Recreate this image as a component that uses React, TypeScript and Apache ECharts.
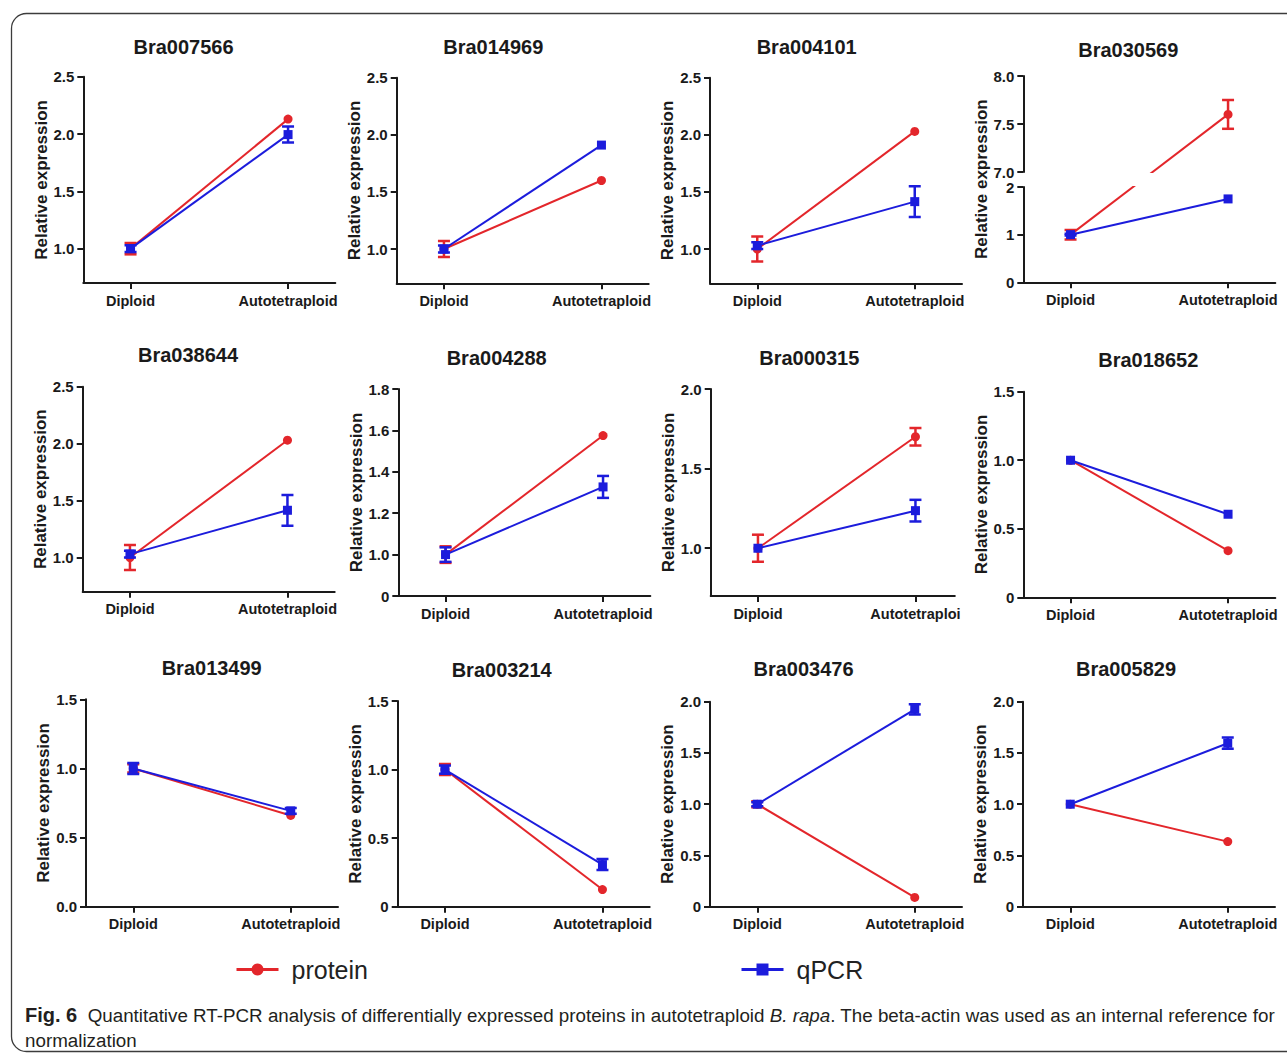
import React, { useEffect, useRef } from 'react';
import * as echarts from 'echarts';

// ---------------- data ----------------
const categories = ['Diploid', 'Autotetraploid'];
const genes = [
  'Bra007566', 'Bra014969', 'Bra004101', 'Bra030569',
  'Bra038644', 'Bra004288', 'Bra000315', 'Bra018652',
  'Bra013499', 'Bra003214', 'Bra003476', 'Bra005829',
];
const proteinMean = [
  [1.0, 2.13], [1.0, 1.6], [1.0, 2.03], [1.0, 7.6],
  [1.0, 2.03], [1.0, 1.575], [1.0, 1.7], [1.0, 0.34],
  [1.0, 0.66], [1.0, 0.125], [1.0, 0.09], [1.0, 0.635],
];
const proteinErr = [
  [0.05, 0], [0.07, 0], [0.11, 0], [0.1, 0.15],
  [0.11, 0], [0.04, 0], [0.085, 0.055], [0, 0],
  [0.03, 0], [0.04, 0], [0.03, 0], [0, 0],
];
const qpcrMean = [
  [1.0, 1.995], [1.0, 1.91], [1.03, 1.415], [1.0, 1.75],
  [1.03, 1.415], [1.0, 1.327], [1.0, 1.236], [1.0, 0.606],
  [1.0, 0.693], [1.0, 0.307], [1.0, 1.926], [1.0, 1.595],
];
const qpcrErr = [
  [0.03, 0.07], [0.03, 0], [0.03, 0.135], [0.02, 0],
  [0.03, 0.135], [0.035, 0.053], [0, 0.068], [0, 0],
  [0.04, 0.02], [0.03, 0.04], [0.02, 0.05], [0, 0.055],
];
const yMin = [0.7, 0.7, 0.7, 0, 0.7, 0.8, 0.7, 0, 0, 0, 0, 0];
const yMax = [2.5, 2.5, 2.5, 2, 2.5, 1.8, 2.0, 1.5, 1.5, 1.5, 2.0, 2.0];
const yTickValues = [
  [1, 1.5, 2, 2.5], [1, 1.5, 2, 2.5], [1, 1.5, 2, 2.5], [0, 1, 2],
  [1, 1.5, 2, 2.5], [0.8, 1.0, 1.2, 1.4, 1.6, 1.8], [1, 1.5, 2], [0, 0.5, 1, 1.5],
  [0, 0.5, 1, 1.5], [0, 0.5, 1, 1.5], [0, 0.5, 1, 1.5, 2], [0, 0.5, 1, 1.5, 2],
];
const yTickLabels = [
  ['1.0', '1.5', '2.0', '2.5'], ['1.0', '1.5', '2.0', '2.5'], ['1.0', '1.5', '2.0', '2.5'], ['0', '1', '2'],
  ['1.0', '1.5', '2.0', '2.5'], ['0', '1.0', '1.2', '1.4', '1.6', '1.8'], ['1.0', '1.5', '2.0'], ['0', '0.5', '1.0', '1.5'],
  ['0.0', '0.5', '1.0', '1.5'], ['0', '0.5', '1.0', '1.5'], ['0', '0.5', '1.0', '1.5', '2.0'], ['0', '0.5', '1.0', '1.5', '2.0'],
];
// broken axis panel (Bra030569): upper segment
const breakPanel = 3;
const upperRange = [7, 8];
const upperTickValues = [7, 7.5, 8];
const upperTickLabels = ['7.0', '7.5', '8.0'];

const legendNames = ['protein', 'qPCR'];
const yAxisTitle = 'Relative expression';
const captionLabel = 'Fig. 6';
const captionLine1a = '  Quantitative RT-PCR analysis of differentially expressed proteins in autotetraploid ';
const captionItalic = 'B. rapa';
const captionLine1b = '. The beta-actin was used as an internal reference for';
const captionLine2 = 'normalization';

// ---------------- layout / style ----------------
const layout = [
  { axisX: 83.3, top: 76.7, bottom: 283, xMax: 1.3, titleX: 183.5, titleY: 46.7 },
  { axisX: 396.7, top: 77.7, bottom: 283.3, xMax: 1.3, titleX: 493.3, titleY: 46.7 },
  { axisX: 710, top: 77.7, bottom: 283.3, xMax: 1.3, titleX: 806.7, titleY: 46.7 },
  { axisX: 1023.3, top: 76, bottom: 282.3, xMax: 1.3, titleX: 1128.3, titleY: 50, lowerTop: 187, upperBottom: 172 },
  { axisX: 82.7, top: 386.7, bottom: 591.7, xMax: 1.3, titleX: 188, titleY: 355 },
  { axisX: 398.3, top: 389, bottom: 596, xMax: 1.3, titleX: 496.7, titleY: 358.3 },
  { axisX: 710.7, top: 389, bottom: 596, xMax: 1.25, titleX: 809.3, titleY: 358.3, truncate: 93 },
  { axisX: 1023.3, top: 391.7, bottom: 597.3, xMax: 1.3, titleX: 1148.3, titleY: 360 },
  { axisX: 86, top: 699.3, bottom: 906.7, xMax: 1.3, titleX: 211.7, titleY: 668.3 },
  { axisX: 397.7, top: 701, bottom: 906.7, xMax: 1.3, titleX: 501.7, titleY: 670 },
  { axisX: 710, top: 701.7, bottom: 906.7, xMax: 1.3, titleX: 803.5, titleY: 669 },
  { axisX: 1023, top: 701.7, bottom: 906.7, xMax: 1.3, titleX: 1126, titleY: 669 },
];
const FONT = '"Liberation Sans", Arial, Helvetica, sans-serif';
const RED = '#e3262b';
const BLUE = '#1c1cdc';
const AXIS = '#1a1a1a';
const UNIT = 157.5;
const X_MIN = -0.3;

function makeX(xMax: number, show: boolean, truncate?: number) {
  const label: any = {
    show,
    customValues: [0, 1],
    formatter: (v: number) => categories[Math.round(v)] ?? '',
    margin: 10,
    color: AXIS,
    fontSize: 14.5,
    fontWeight: 'bold',
    fontFamily: FONT,
  };
  if (truncate) {
    label.width = truncate;
    label.overflow = 'truncate';
    label.ellipsis = '';
  }
  return {
    type: 'value',
    min: X_MIN,
    max: xMax,
    axisLine: { show, onZero: false, lineStyle: { color: AXIS, width: 2 } },
    axisTick: { show, customValues: [0, 1], length: 6, lineStyle: { color: AXIS, width: 2 } },
    axisLabel: label,
    splitLine: { show: false },
  };
}

function makeY(min: number, max: number, ticks: number[] | null, labels: string[] | null, showLine: boolean, name?: string) {
  return {
    type: 'value',
    min,
    max,
    name: name ?? '',
    nameLocation: 'middle',
    nameGap: 33,
    nameTextStyle: { fontSize: 17, fontWeight: 'bold', color: AXIS, fontFamily: FONT },
    axisLine: { show: showLine, onZero: false, lineStyle: { color: AXIS, width: 2 } },
    axisTick: { show: !!ticks, customValues: ticks ?? [], length: 6, lineStyle: { color: AXIS, width: 2 } },
    axisLabel: {
      show: !!ticks,
      customValues: ticks ?? [],
      formatter: (v: number) => {
        if (!ticks || !labels) return '';
        const i = ticks.findIndex((t) => Math.abs(t - v) < 1e-6);
        return i >= 0 ? labels[i] : '';
      },
      margin: 9,
      color: AXIS,
      fontSize: 15,
      fontWeight: 'bold',
      fontFamily: FONT,
    },
    splitLine: { show: false },
  };
}

function errSeries(gi: number, data: number[][], color: string, z: number) {
  return {
    type: 'custom',
    xAxisIndex: gi,
    yAxisIndex: gi,
    clip: true,
    z,
    silent: true,
    encode: { x: 0, y: [1, 2] },
    data,
    renderItem: (_p: any, api: any) => {
      const x = api.value(0);
      const top = api.coord([x, api.value(2)]);
      const bot = api.coord([x, api.value(1)]);
      const w = 6;
      const style = { stroke: color, lineWidth: 2.5 };
      return {
        type: 'group',
        children: [
          { type: 'line', shape: { x1: top[0], y1: top[1], x2: bot[0], y2: bot[1] }, style },
          { type: 'line', shape: { x1: top[0] - w, y1: top[1], x2: top[0] + w, y2: top[1] }, style },
          { type: 'line', shape: { x1: bot[0] - w, y1: bot[1], x2: bot[0] + w, y2: bot[1] }, style },
        ],
      };
    },
  };
}

function lineSeries(gi: number, name: string, data: number[][], color: string, symbol: string, z: number) {
  return {
    type: 'line',
    name,
    xAxisIndex: gi,
    yAxisIndex: gi,
    data,
    symbol,
    symbolSize: 9,
    showSymbol: true,
    clip: true,
    z,
    lineStyle: { color, width: 2 },
    itemStyle: { color },
  };
}

function buildOption() {
  const grid: any[] = [];
  const xAxis: any[] = [];
  const yAxis: any[] = [];
  const series: any[] = [];
  const graphics: any[] = [];

  const addGrid = (left: number, top: number, height: number, width: number, x: any, y: any) => {
    grid.push({ left, top, height, width, containLabel: false, outerBoundsMode: 'none' });
    const gi = grid.length - 1;
    xAxis.push({ gridIndex: gi, ...x });
    yAxis.push({ gridIndex: gi, ...y });
    return gi;
  };

  const addSeries = (gi: number, p: number, f: (v: number) => number) => {
    const pts = (mean: number[]) => mean.map((v, i) => [i, f(v)]);
    const bars = (mean: number[], err: number[]) =>
      mean.map((v, i) => [i, f(v - err[i]), f(v + err[i]), err[i]]).filter((d) => d[3] > 0);
    series.push(errSeries(gi, bars(proteinMean[p], proteinErr[p]), RED, 2));
    series.push(lineSeries(gi, legendNames[0], pts(proteinMean[p]), RED, 'circle', 3));
    series.push(errSeries(gi, bars(qpcrMean[p], qpcrErr[p]), BLUE, 4));
    series.push(lineSeries(gi, legendNames[1], pts(qpcrMean[p]), BLUE, 'rect', 5));
  };

  genes.forEach((gene, p) => {
    const L: any = layout[p];
    const width = (L.xMax - X_MIN) * UNIT;
    graphics.push({
      type: 'text',
      x: L.titleX,
      y: L.titleY,
      silent: true,
      style: {
        text: gene,
        fill: AXIS,
        fontSize: 20,
        fontWeight: 'bold',
        fontFamily: FONT,
        align: 'center',
        verticalAlign: 'middle',
      },
    });

    if (p === breakPanel) {
      const lowMin = yMin[p];
      const lowMax = yMax[p];
      const pxLow = (L.bottom - L.lowerTop) / (lowMax - lowMin);
      const pxUp = (L.upperBottom - L.top) / (upperRange[1] - upperRange[0]);
      const k = pxUp / pxLow;
      const gapUnits = (L.lowerTop - L.upperBottom) / pxLow;
      const display = (v: number) => (v <= lowMax ? v : lowMax + gapUnits + (v - upperRange[0]) * k);
      const toUpper = (v: number) => upperRange[0] + (display(v) - (lowMax + gapUnits)) / k;

      const lowGi = addGrid(
        L.axisX, L.lowerTop, L.bottom - L.lowerTop, width,
        makeX(L.xMax, true),
        makeY(lowMin, lowMax, yTickValues[p], yTickLabels[p], true),
      );
      const upGi = addGrid(
        L.axisX, L.top, L.upperBottom - L.top, width,
        makeX(L.xMax, false),
        makeY(upperRange[0], upperRange[1], upperTickValues, upperTickLabels, true),
      );
      addGrid(
        L.axisX, L.top, L.bottom - L.top, width,
        makeX(L.xMax, false),
        makeY(0, 1, null, null, false, yAxisTitle),
      );
      addSeries(lowGi, p, display);
      addSeries(upGi, p, toUpper);
    } else {
      const gi = addGrid(
        L.axisX, L.top, L.bottom - L.top, width,
        makeX(L.xMax, true, L.truncate),
        makeY(yMin[p], yMax[p], yTickValues[p], yTickLabels[p], true, yAxisTitle),
      );
      addSeries(gi, p, (v) => v);
    }
  });

  // frame
  graphics.push({
    type: 'rect',
    silent: true,
    z: -10,
    shape: { x: 11.5, y: 13.5, width: 1300, height: 1038, r: 15 },
    style: { fill: 'none', stroke: '#3c3c3c', lineWidth: 1.3 },
  });
  // caption
  graphics.push({
    type: 'text',
    x: 25,
    y: 1015,
    silent: true,
    style: {
      text: `{b|${captionLabel}}${captionLine1a}{i|${captionItalic}}${captionLine1b}`,
      fill: '#231f20',
      fontSize: 18.8,
      fontFamily: FONT,
      align: 'left',
      verticalAlign: 'middle',
      rich: {
        b: { fontWeight: 'bold', fontSize: 20, fontFamily: FONT, fill: '#231f20' },
        i: { fontStyle: 'italic', fontSize: 18.8, fontFamily: FONT, fill: '#231f20' },
      },
    },
  });
  graphics.push({
    type: 'text',
    x: 25,
    y: 1040,
    silent: true,
    style: {
      text: captionLine2,
      fill: '#231f20',
      fontSize: 18.8,
      fontFamily: FONT,
      align: 'left',
      verticalAlign: 'middle',
    },
  });

  const legendBase = {
    orient: 'horizontal',
    top: 957,
    padding: 0,
    itemWidth: 42,
    itemHeight: 15,
    selectedMode: false,
    lineStyle: { width: 3 },
    textStyle: { fontSize: 25, color: '#222', fontFamily: FONT, padding: [0, 0, 0, 8] },
  };

  return {
    animation: false,
    backgroundColor: '#ffffff',
    textStyle: { fontFamily: FONT },
    grid,
    xAxis,
    yAxis,
    series,
    legend: [
      { ...legendBase, left: 235, data: [legendNames[0]] },
      { ...legendBase, left: 740, data: [legendNames[1]] },
    ],
    graphic: { elements: graphics },
  };
}

export default function App() {
  const ref = useRef<HTMLDivElement>(null);
  useEffect(() => {
    document.body.style.margin = '0';
    const chart = echarts.init(ref.current as HTMLDivElement, null, { renderer: 'svg' });
    chart.setOption(buildOption() as any);
    return () => chart.dispose();
  }, []);
  return <div ref={ref} style={{ width: 1287, height: 1058 }} />;
}
